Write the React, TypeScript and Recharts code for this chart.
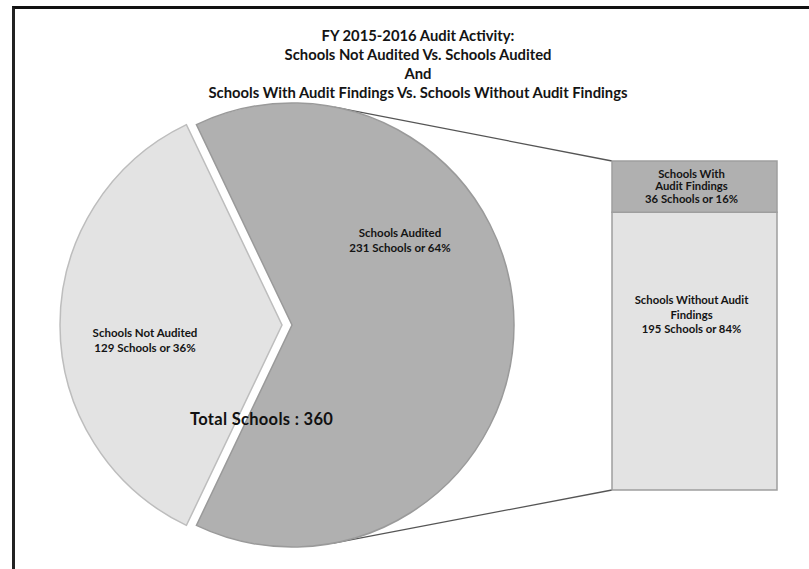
import React from 'react';
import { PieChart, Pie, Cell, BarChart, Bar, XAxis, YAxis, LabelList } from 'recharts';

// ---------- data ----------
const titleLines = [
  'FY 2015-2016 Audit Activity:',
  'Schools Not Audited Vs. Schools Audited',
  'And',
  'Schools With Audit Findings Vs. Schools Without Audit Findings',
];
const pieCategories = ['Schools Not Audited', 'Schools Audited'];
const pieValues = [129, 231];
const barCategories = ['Schools Without Audit Findings', 'Schools With Audit Findings'];
const barLabelLines = [['Schools Without Audit', 'Findings'], ['Schools With', 'Audit Findings']];
const barValues = [195, 36];
const totalLabel = 'Total Schools';

// ---------- layout / style ----------
const W = 809;
const H = 569;
const PIE_CX = 287;
const PIE_CY = 325;
const PIE_R = 222;
const EXPLODE = 5;
const BAR_X = 612;
const BAR_Y = 161;
const BAR_W = 165;
const BAR_H = 329;
const FONT = 'Lato, "Open Sans", sans-serif';
const LIGHT = '#e3e3e3';
const DARK = '#b0b0b0';
const TEXT = '#141414';
const pieLabelOffsets = [
  [-137, 15],
  [108, -85],
];

const pieTotal = pieValues.reduce((a, b) => a + b, 0);
const pieData = pieCategories.map((name, i) => ({ name, value: pieValues[i] }));
const startAngle = 180 - (360 * (pieValues[0] / pieTotal)) / 2;
const barTotal = barValues.reduce((a, b) => a + b, 0);
const barRow: Record<string, any> = { name: pieCategories[1] };
barCategories.forEach((_, i) => {
  barRow['v' + i] = barValues[i];
});
const barData = [barRow];

function tangentPoint(px: number, py: number, cx: number, cy: number, r: number, sign: number) {
  const dx = px - cx;
  const dy = py - cy;
  const d = Math.hypot(dx, dy);
  const a = Math.atan2(dy, dx);
  const off = Math.acos(r / d);
  const t = a + sign * off;
  return [cx + r * Math.cos(t), cy + r * Math.sin(t)];
}

const makePieLabel = (visible: number, centerX: number) => (props: any) => {
  const { index } = props;
  if (index !== visible) return <g />;
  const [dx, dy] = pieLabelOffsets[index];
  const x = centerX + dx;
  const y = PIE_CY + dy;
  const pct = Math.round((pieValues[index] / pieTotal) * 100);
  return (
    <text x={x} y={y} textAnchor="middle" fontFamily={FONT} fontSize={11.5} fontWeight={700} fill={TEXT}>
      <tspan x={x} dy={-3}>{pieCategories[index]}</tspan>
      <tspan x={x} dy={14.5}>{`${pieValues[index]} Schools or ${pct}%`}</tspan>
    </text>
  );
};

const makeBarLabel = (idx: number) => (props: any) => {
  const { x, y, width, height } = props;
  const cx = Number(x) + Number(width) / 2 - 3;
  const lines = [...barLabelLines[idx], `${barValues[idx]} Schools or ${Math.round((barValues[idx] / barTotal) * 100)}%`];
  const lh = idx === 0 ? 14.5 : 12.8;
  const center = idx === 0 ? Number(y) + Number(height) * 0.37 : Number(y) + Number(height) / 2;
  const first = center - lh + 3.8;
  return (
    <text textAnchor="middle" fontFamily={FONT} fontSize={11.3} fontWeight={700} fill={TEXT}>
      {lines.map((l, i) => (
        <tspan key={i} x={cx} y={first + i * lh}>{l}</tspan>
      ))}
    </text>
  );
};

export default function App() {
  const lightCx = PIE_CX - EXPLODE;
  const darkCx = PIE_CX + EXPLODE;
  const t1 = tangentPoint(BAR_X, BAR_Y, darkCx, PIE_CY, PIE_R, -1);
  const t2 = tangentPoint(BAR_X, BAR_Y + BAR_H, darkCx, PIE_CY, PIE_R, 1);
  return (
    <div style={{ position: 'absolute', left: 0, top: 0, width: W, height: H, background: '#fff', overflow: 'hidden' }}>
      {/* frame */}
      <div style={{ position: 'absolute', left: 12, top: 6, width: W, height: H, borderTop: '3px solid #111', borderLeft: '3px solid #222' }} />
      {/* title */}
      <div
        style={{
          position: 'absolute',
          left: 68,
          top: 26,
          width: 700,
          textAlign: 'center',
          fontFamily: FONT,
          fontWeight: 700,
          fontSize: 14.8,
          lineHeight: '19px',
          color: TEXT,
        }}
      >
        {titleLines.map((t, i) => (
          <div key={i}>{t}</div>
        ))}
      </div>
      {/* connector lines */}
      <svg width={W} height={H} style={{ position: 'absolute', left: 0, top: 0 }}>
        <line x1={t1[0]} y1={t1[1]} x2={BAR_X} y2={BAR_Y} stroke="#555" strokeWidth={1.3} />
        <line x1={t2[0]} y1={t2[1]} x2={BAR_X} y2={BAR_Y + BAR_H} stroke="#555" strokeWidth={1.3} />
      </svg>
      {/* pie */}
      <div style={{ position: 'absolute', left: 0, top: 0 }}>
        <PieChart width={W} height={H} margin={{ top: 0, right: 0, bottom: 0, left: 0 }}>
          <Pie
            data={pieData}
            dataKey="value"
            nameKey="name"
            cx={lightCx}
            cy={PIE_CY}
            outerRadius={PIE_R}
            startAngle={startAngle}
            endAngle={startAngle + 360}
            isAnimationActive={false}
            labelLine={false}
            label={makePieLabel(0, lightCx)}
          >
            <Cell fill={LIGHT} stroke="#bdbdbd" strokeWidth={1.5} />
            <Cell fill="none" stroke="none" />
          </Pie>
          <Pie
            data={pieData}
            dataKey="value"
            nameKey="name"
            cx={darkCx}
            cy={PIE_CY}
            outerRadius={PIE_R}
            startAngle={startAngle}
            endAngle={startAngle + 360}
            isAnimationActive={false}
            labelLine={false}
            label={makePieLabel(1, darkCx)}
          >
            <Cell fill="none" stroke="none" />
            <Cell fill={DARK} stroke="#9a9a9a" strokeWidth={1.5} />
          </Pie>
        </PieChart>
      </div>
      {/* total text */}
      <svg width={W} height={H} style={{ position: 'absolute', left: 0, top: 0, pointerEvents: 'none' }}>
        <text x={190} y={425} fontFamily={FONT} fontSize={16.5} fontWeight={700} letterSpacing={0.3} fill="#111">
          {`${totalLabel} : ${pieTotal}`}
        </text>
      </svg>
      {/* bar */}
      <div style={{ position: 'absolute', left: BAR_X - 2, top: BAR_Y - 2 }}>
        <BarChart
          width={BAR_W + 4}
          height={BAR_H + 4}
          data={barData}
          margin={{ top: 2, right: 2, bottom: 2, left: 2 }}
          barCategoryGap={0}
        >
          <XAxis dataKey="name" hide />
          <YAxis hide domain={[0, barTotal]} />
          <Bar dataKey="v0" stackId="s" fill={LIGHT} stroke="#9e9e9e" strokeWidth={1.5} isAnimationActive={false}>
            <LabelList dataKey="v0" content={makeBarLabel(0)} />
          </Bar>
          <Bar dataKey="v1" stackId="s" fill={DARK} stroke="#9e9e9e" strokeWidth={1.5} isAnimationActive={false}>
            <LabelList dataKey="v1" content={makeBarLabel(1)} />
          </Bar>
        </BarChart>
      </div>
    </div>
  );
}
